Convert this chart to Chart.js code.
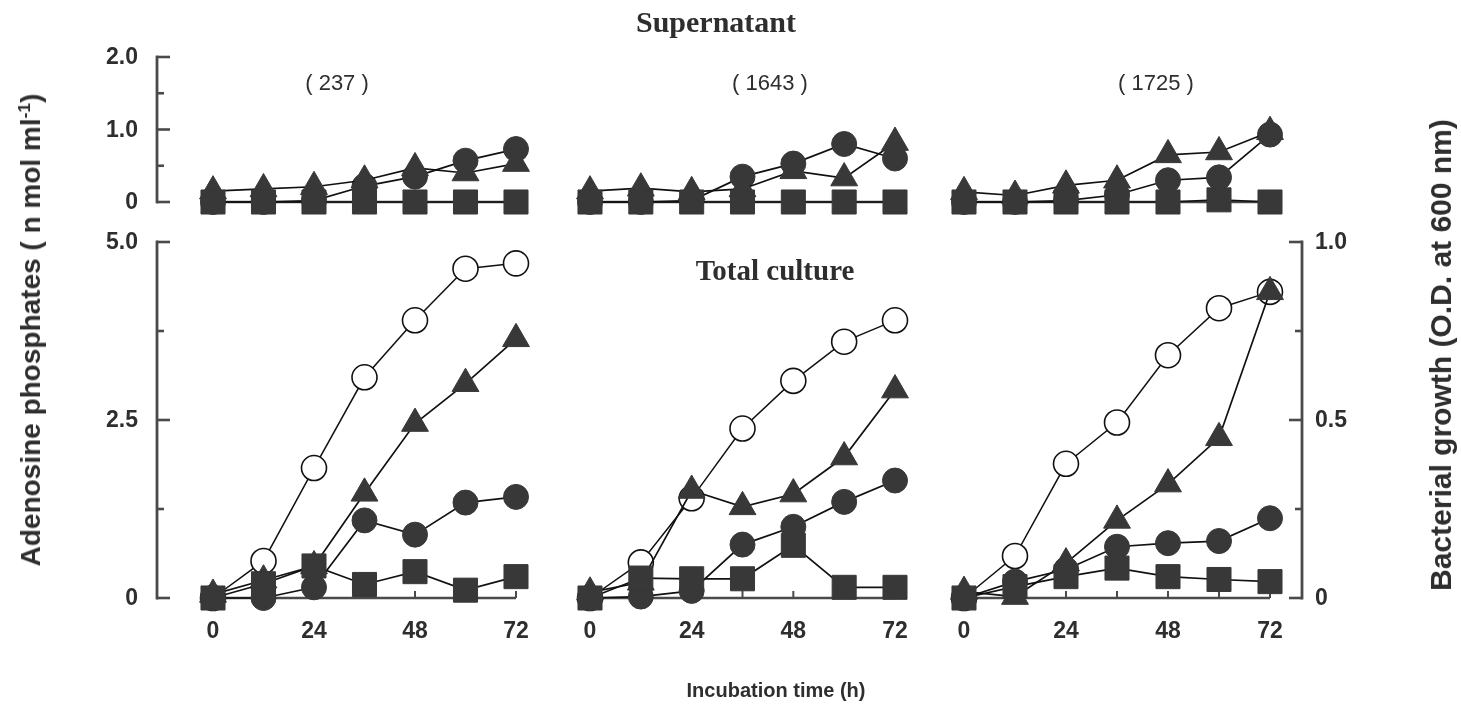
<!DOCTYPE html>
<html>
<head>
<meta charset="utf-8">
<script src="https://cdn.jsdelivr.net/npm/chart.js@4/dist/chart.umd.min.js"></script>
<style>
  html, body { margin: 0; padding: 0; background: #fff; }
  #wrap { position: relative; width: 1461px; height: 706px; overflow: hidden; background: #fff; }
  #wrap canvas { position: absolute; left: 0; top: 0; }
  .t { position: absolute; white-space: nowrap; color: #2e2e2e; line-height: 1; }
  .serif { font-family: "Liberation Serif", "DejaVu Serif", serif; font-weight: bold; font-size: 29px; }
  .sans { font-family: "Liberation Sans", Arial, sans-serif; }
  .rot { transform: translate(-50%, -50%) rotate(-90deg); }
  .ctr { transform: translate(-50%, -50%); }
  sup { font-size: 0.62em; vertical-align: 0.55em; line-height: 0; }
</style>
</head>
<body>
<div id="wrap">
  <canvas id="sup0" width="1461" height="706"></canvas>
  <canvas id="sup1" width="1461" height="706"></canvas>
  <canvas id="sup2" width="1461" height="706"></canvas>
  <canvas id="tot0" width="1461" height="706"></canvas>
  <canvas id="tot1" width="1461" height="706"></canvas>
  <canvas id="tot2" width="1461" height="706"></canvas>

  <div class="t serif ctr" style="left:716px; top:22px; font-size:30px;">Supernatant</div>
  <div class="t serif ctr" style="left:775px; top:270px;">Total culture</div>
  <div class="t sans ctr" id="strain0" style="left:337px; top:83px; font-size:22px;"></div>
  <div class="t sans ctr" id="strain1" style="left:770px; top:83px; font-size:22px;"></div>
  <div class="t sans ctr" id="strain2" style="left:1156px; top:83px; font-size:22px;"></div>
  <div class="t sans rot" style="left:31px; top:330px; font-size:28px; font-weight:bold;">Adenosine phosphates ( n mol ml<sup>-1</sup>)</div>
  <div class="t sans rot" style="left:1441px; top:355px; font-size:30px; font-weight:bold;">Bacterial growth (O.D. at 600 nm)</div>
  <div class="t sans ctr" style="left:776px; top:690px; font-size:20px; font-weight:bold;">Incubation time (h)</div>
</div>

<script>
// Sampling times (h)
const hours = [0, 12, 24, 36, 48, 60, 72];
const strains = ['( 237 )', '( 1643 )', '( 1725 )'];

// Tick values / labels
const supTicks = [0, 1.0, 2.0];
const supTickLabels = ['0', '1.0', '2.0'];
const supMinorTicks = [0.5, 1.5];
const totTicks = [0, 2.5, 5.0];
const totTickLabels = ['0', '2.5', '5.0'];
const totMinorTicks = [1.25, 3.75];
const odTicks = [0, 0.5, 1.0];
const odTickLabels = ['0', '0.5', '1.0'];
const odMinorTicks = [0.25, 0.75];
const timeTicks = [0, 24, 48, 72];
const timeTickLabels = ['0', '24', '48', '72'];
const timeMinorTicks = [12, 24, 36, 48, 60, 72];

// Supernatant, adenosine phosphates (nmol/ml)
const sup237Circle   = [0, 0, 0.02, 0.22, 0.35, 0.57, 0.73];
const sup237Triangle = [0.15, 0.18, 0.21, 0.30, 0.47, 0.40, 0.53];
const sup237Square   = [0, 0, 0, 0, 0, 0, 0];

const sup1643Circle   = [0, 0, 0.02, 0.35, 0.53, 0.80, 0.60];
const sup1643Triangle = [0.15, 0.19, 0.14, 0.18, 0.43, 0.33, 0.82];
const sup1643Square   = [0, 0, 0, 0, 0, 0, 0];

const sup1725Circle   = [0, 0, 0.02, 0.10, 0.30, 0.34, 0.93];
const sup1725Triangle = [0.14, 0.09, 0.23, 0.30, 0.65, 0.69, 0.97];
const sup1725Square   = [0, 0, 0, 0, 0, 0.03, 0];

// Total culture, adenosine phosphates (nmol/ml)
const tot237Circle   = [0, 0, 0.15, 1.09, 0.89, 1.34, 1.42];
const tot237Triangle = [0.05, 0.25, 0.45, 1.47, 2.45, 3.01, 3.64];
const tot237Square   = [0, 0.20, 0.45, 0.19, 0.37, 0.11, 0.30];
const tot237Growth   = [0, 0.104, 0.365, 0.62, 0.78, 0.925, 0.94];

const tot1643Circle   = [0, 0.02, 0.10, 0.75, 1.00, 1.35, 1.65];
const tot1643Triangle = [0.08, 0.22, 1.51, 1.28, 1.46, 1.98, 2.92];
const tot1643Square   = [0, 0.28, 0.27, 0.27, 0.74, 0.15, 0.15];
const tot1643Growth   = [0, 0.10, 0.28, 0.476, 0.61, 0.72, 0.78];

const tot1725Circle   = [0, 0.23, 0.40, 0.72, 0.77, 0.80, 1.12];
const tot1725Triangle = [0.09, 0.02, 0.49, 1.09, 1.60, 2.25, 4.30];
const tot1725Square   = [0, 0.16, 0.30, 0.42, 0.30, 0.26, 0.23];
const tot1725Growth   = [0, 0.118, 0.377, 0.493, 0.682, 0.814, 0.86];

strains.forEach((s, i) => { document.getElementById('strain' + i).textContent = s; });

const INK = '#111';
const FILL = '#383838';
const AXIS = '#4a4a4a';
const TEXT = '#2e2e2e';
const TICK_FONT = 'bold 23px "Liberation Sans", Arial, sans-serif';

const pts = vals => hours.map((h, i) => ({ x: h, y: vals[i] }));

function series(label, vals, style, opts = {}) {
  const open = style === 'open';
  return Object.assign({
    label,
    data: pts(vals),
    borderColor: INK,
    borderWidth: 1.7,
    pointStyle: open ? 'circle' : style,
    pointRadius: style === 'rect' ? 17 : (style === 'triangle' ? 15.5 : 12.5),
    pointBackgroundColor: open ? '#fff' : FILL,
    pointBorderColor: open ? INK : FILL,
    pointBorderWidth: open ? 1.6 : 1,
    pointHoverRadius: 0,
    tension: 0,
    clip: false,
    fill: false,
    yAxisID: 'y'
  }, opts);
}

// Axis furniture drawn from each chart's own scales
const panelAxes = {
  id: 'panelAxes',
  beforeDatasetsDraw(chart, args, o) {
    const ctx = chart.ctx;
    const xs = chart.scales.x;
    const ys = chart.scales.y;
    const x0 = xs.getPixelForValue(0), x72 = xs.getPixelForValue(72);
    const yBase = ys.getPixelForValue(0);
    ctx.save();
    ctx.strokeStyle = AXIS;
    ctx.fillStyle = TEXT;
    ctx.font = TICK_FONT;
    ctx.lineCap = 'butt';

    // baseline of the panel
    if (o.base) {
      ctx.lineWidth = 2.6;
      ctx.beginPath();
      ctx.moveTo(x0, yBase); ctx.lineTo(x72, yBase);
      ctx.stroke();
      if (o.baseTicks) {
        ctx.lineWidth = 2;
        o.baseTicks.forEach(v => {
          const px = xs.getPixelForValue(v);
          ctx.beginPath(); ctx.moveTo(px, yBase); ctx.lineTo(px, yBase - 7); ctx.stroke();
        });
      }
    }
    // time labels
    if (o.timeLabels) {
      ctx.textAlign = 'center';
      ctx.textBaseline = 'middle';
      o.timeLabels.ticks.forEach((v, i) => {
        ctx.fillText(o.timeLabels.labels[i], xs.getPixelForValue(v), yBase + 34);
      });
    }
    // left bracket axis
    if (o.left) {
      const a = o.left, sc = chart.scales[a.scale];
      const ax = chart.chartArea.left - a.offset;
      const yTop = sc.getPixelForValue(sc.max), yBot = sc.getPixelForValue(sc.min);
      ctx.lineWidth = 2.8;
      ctx.beginPath(); ctx.moveTo(ax, yTop - 1.4); ctx.lineTo(ax, yBot + 1.4); ctx.stroke();
      ctx.lineWidth = 2.6;
      a.ticks.forEach(v => { const py = sc.getPixelForValue(v); ctx.beginPath(); ctx.moveTo(ax, py); ctx.lineTo(ax + 13, py); ctx.stroke(); });
      a.minor.forEach(v => { const py = sc.getPixelForValue(v); ctx.beginPath(); ctx.moveTo(ax, py); ctx.lineTo(ax + 7, py); ctx.stroke(); });
      ctx.textAlign = 'right'; ctx.textBaseline = 'middle';
      a.ticks.forEach((v, i) => ctx.fillText(a.labels[i], ax - 19, sc.getPixelForValue(v) + 1));
    }
    // right bracket axis
    if (o.right) {
      const a = o.right, sc = chart.scales[a.scale];
      const ax = chart.chartArea.right + a.offset;
      const yTop = sc.getPixelForValue(sc.max), yBot = sc.getPixelForValue(sc.min);
      ctx.lineWidth = 2.8;
      ctx.beginPath(); ctx.moveTo(ax, yTop - 1.4); ctx.lineTo(ax, yBot + 1.4); ctx.stroke();
      ctx.lineWidth = 2.6;
      a.ticks.forEach(v => { const py = sc.getPixelForValue(v); ctx.beginPath(); ctx.moveTo(ax, py); ctx.lineTo(ax - 13, py); ctx.stroke(); });
      a.minor.forEach(v => { const py = sc.getPixelForValue(v); ctx.beginPath(); ctx.moveTo(ax, py); ctx.lineTo(ax - 7, py); ctx.stroke(); });
      ctx.textAlign = 'left'; ctx.textBaseline = 'middle';
      a.ticks.forEach((v, i) => ctx.fillText(a.labels[i], ax + 13, sc.getPixelForValue(v) + 1));
    }
    ctx.restore();
  }
};

// Plot areas (page pixels) for the three strain columns and the two rows
const W = 1461, H = 706;
const columns = [[213, 516], [590, 895], [964, 1270]];
const supRow = [57, 202];
const totRow = [242, 598];

function makePanel(id, col, row, yMax, datasets, axes, withOD) {
  const scales = {
    x: { type: 'linear', min: 0, max: 72, display: false },
    y: { type: 'linear', min: 0, max: yMax, display: false }
  };
  if (withOD) scales.yOD = { type: 'linear', min: 0, max: 1.0, display: false, position: 'right' };
  return new Chart(document.getElementById(id), {
    type: 'line',
    data: { datasets },
    options: {
      responsive: false,
      animation: false,
      devicePixelRatio: 1,
      events: [],
      layout: { padding: { left: columns[col][0], right: W - columns[col][1], top: row[0], bottom: H - row[1] } },
      scales,
      plugins: { legend: { display: false }, tooltip: { enabled: false }, panelAxes: axes }
    },
    plugins: [panelAxes]
  });
}

const leftSup = { scale: 'y', offset: 56, ticks: supTicks, labels: supTickLabels, minor: supMinorTicks };
const leftTot = { scale: 'y', offset: 56, ticks: totTicks, labels: totTickLabels, minor: totMinorTicks };
const rightOD = { scale: 'yOD', offset: 32, ticks: odTicks, labels: odTickLabels, minor: odMinorTicks };
const timeLabels = { ticks: timeTicks, labels: timeTickLabels };

const supSets = (sq, tri, cir) => [
  series('squares', sq, 'rect'),
  series('triangles', tri, 'triangle'),
  series('circles', cir, 'circle')
];
const totSets = (sq, tri, cir, od) => [
  series('squares', sq, 'rect'),
  series('triangles', tri, 'triangle'),
  series('circles', cir, 'circle'),
  series('growth', od, 'open', { yAxisID: 'yOD', borderWidth: 1.5 })
];

makePanel('sup0', 0, supRow, 2.0, supSets(sup237Square, sup237Triangle, sup237Circle), { base: true, left: leftSup });
makePanel('sup1', 1, supRow, 2.0, supSets(sup1643Square, sup1643Triangle, sup1643Circle), { base: true });
makePanel('sup2', 2, supRow, 2.0, supSets(sup1725Square, sup1725Triangle, sup1725Circle), { base: true });

makePanel('tot0', 0, totRow, 5.0, totSets(tot237Square, tot237Triangle, tot237Circle, tot237Growth),
  { base: true, baseTicks: timeMinorTicks, timeLabels, left: leftTot }, true);
makePanel('tot1', 1, totRow, 5.0, totSets(tot1643Square, tot1643Triangle, tot1643Circle, tot1643Growth),
  { base: true, baseTicks: timeMinorTicks, timeLabels }, true);
makePanel('tot2', 2, totRow, 5.0, totSets(tot1725Square, tot1725Triangle, tot1725Circle, tot1725Growth),
  { base: true, baseTicks: timeMinorTicks, timeLabels, right: rightOD }, true);
</script>
</body>
</html>
